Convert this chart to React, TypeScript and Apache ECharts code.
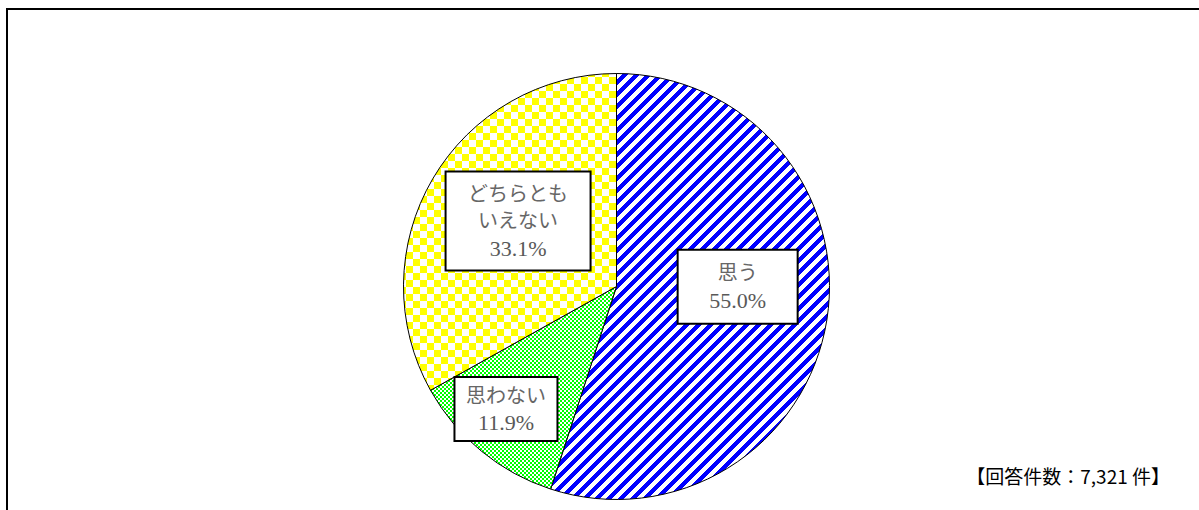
import React, { useEffect, useRef } from "react";
import * as echarts from "echarts";

const categories: string[] = ["思う", "思わない", "どちらとも\nいえない"];
const values: number[] = [55.0, 11.9, 33.1];
const totalLabel = "【回答件数：7,321 件】";

function makePattern(kind: "stripe" | "check" | "fine"): HTMLCanvasElement {
  const size = kind === "fine" ? 4 : kind === "check" ? 14 : 12;
  const c = document.createElement("canvas");
  c.width = size;
  c.height = size;
  const ctx = c.getContext("2d")!;
  ctx.fillStyle = "#ffffff";
  ctx.fillRect(0, 0, size, size);
  for (let y = 0; y < size; y++) {
    for (let x = 0; x < size; x++) {
      let on = false;
      if (kind === "stripe") {
        on = (x + y) % 12 < 6;
        ctx.fillStyle = "#0000ff";
      } else if (kind === "check") {
        on = (Math.floor(x / 7) + Math.floor(y / 7)) % 2 === 0;
        ctx.fillStyle = "#ffff00";
      } else {
        on = (Math.floor(x / 2) + Math.floor(y / 2)) % 2 === 0;
        ctx.fillStyle = "#00ff00";
      }
      if (on) ctx.fillRect(x, y, 1, 1);
    }
  }
  if (kind === "fine") {
    ctx.fillStyle = "#00ff00";
    ctx.fillRect(1, 1, 1, 1);
    ctx.fillRect(3, 3, 1, 1);
  }
  return c;
}

export default function App() {
  const ref = useRef<HTMLDivElement>(null);
  useEffect(() => {
    if (!ref.current) return;
    const chart = echarts.init(ref.current, null, { renderer: "svg" });
    const pats = [makePattern("stripe"), makePattern("fine"), makePattern("check")];
    const labelBoxes = [
      { width: 78, padding: [9, 20, 9, 20], dx: 13, dy: -17 },
      { width: 83, padding: [4, 9, 4, 9], dx: -41, dy: 38 },
      { width: 123, padding: [8, 10, 8, 10], dx: -4, dy: -10 },
    ];
    const data = categories.map((name, i) => ({
      name,
      value: values[i],
      itemStyle: {
        color: {
          image: pats[i],
          repeat: "repeat",
          imageWidth: pats[i].width,
          imageHeight: pats[i].height,
        } as any,
      },
      label: {
        width: labelBoxes[i].width,
        padding: labelBoxes[i].padding,
      },
    }));
    const serif = "'Liberation Serif', 'DejaVu Serif', 'Noto Sans CJK JP', serif";
    chart.setOption({
      animation: false,
      backgroundColor: "#ffffff",
      series: [
        {
          type: "pie",
          center: [616.5, 286.5],
          radius: 213,
          startAngle: 90,
          clockwise: true,
          avoidLabelOverlap: false,
          itemStyle: { borderColor: "#000000", borderWidth: 1 },
          emphasis: { disabled: true },
          label: {
            show: true,
            position: "inside",
            formatter: (p: any) =>
              p.name
                .split("\n")
                .map((s: string) => `{n|${s}}`)
                .join("\n") + `\n{v|${p.value.toFixed(1)}%}`,
            color: "#595959",
            fontSize: 20,
            lineHeight: 27,
            align: "center",
            fontFamily: serif,
            backgroundColor: "#ffffff",
            borderColor: "#000000",
            borderWidth: 2,
            rich: {
              n: { fontSize: 20, lineHeight: 27, color: "#666666", fontFamily: serif },
              v: { fontSize: 22, lineHeight: 27, color: "#595959", fontFamily: serif },
            },
          },
          labelLine: { show: false },
          labelLayout: (params: any) => ({
            dx: labelBoxes[params.dataIndex].dx,
            dy: labelBoxes[params.dataIndex].dy,
          }),
          data,
        },
      ],
      graphic: [
        {
          type: "rect",
          shape: { x: 7, y: 9, width: 1300, height: 600 },
          style: { fill: "none", stroke: "#000000", lineWidth: 2 },
          silent: true,
        },
        {
          type: "text",
          right: 29,
          top: 466,
          style: {
            text: totalLabel,
            fontSize: 19,
            fill: "#000000",
            fontFamily: "'Noto Sans CJK JP', sans-serif",
          },
        },
      ],
    });
    return () => chart.dispose();
  }, []);
  return (
    <div
      ref={ref}
      style={{ position: "fixed", left: 0, top: 0, width: 1199, height: 510 }}
    />
  );
}
